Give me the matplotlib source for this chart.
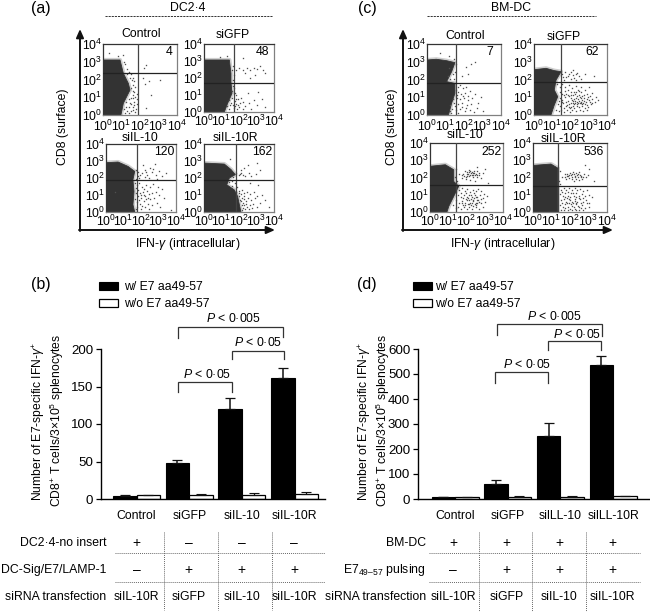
import matplotlib
matplotlib.use("Agg")
import matplotlib.pyplot as plt
from matplotlib.patches import Polygon

plt.rcParams['font.family'] = ['Liberation Sans', 'DejaVu Sans']
plt.rcParams['mathtext.fontset'] = 'custom'
plt.rcParams['mathtext.rm'] = 'Liberation Sans'
plt.rcParams['mathtext.it'] = 'Liberation Sans:italic'
plt.rcParams['mathtext.default'] = 'regular'

W, H = 650, 612
TXT = '#000000'

# ---- bar chart data ----
cats_b = ['Control', 'siGFP', 'siIL-10', 'siIL-10R']
with_b = [4, 48, 120, 162]
with_b_err = [2, 4, 15, 13]
wo_b = [5, 5, 6, 7]
wo_b_err = [0.7, 1.5, 1.5, 2]

cats_d = ['Control', 'siGFP', 'silLL-10', 'silLL-10R']
with_d = [7, 62, 252, 536]
with_d_err = [3, 14, 54, 35]
wo_d = [8, 8, 10, 11]
wo_d_err = [2, 3, 2, 3]

legend_labels = ['w/ E7 aa49-57', 'w/o E7 aa49-57']
ylabel_bars = 'Number of E7-specific IFN-$\\mathit{\\gamma}^{+}$\nCD8$^{+}$ T cells/3$\\times$10$^{5}$ splenocytes'

# ---- table text ----
rows_b = ['DC2·4-no insert', 'DC-Sig/E7/LAMP-1', 'siRNA transfection']
rows_d = ['BM-DC', 'E7$_{49–57}$ pulsing', 'siRNA transfection']
row1_b = ['+', '–', '–', '–']
row2_b = ['–', '+', '+', '+']
row1_d = ['+', '+', '+', '+']
row2_d = ['–', '+', '+', '+']
row3 = ['siIL-10R', 'siGFP', 'siIL-10', 'siIL-10R']

# ---- flow panels: outline of dense population, quadrant gates, sparse events (log10 units) ----
blob_a1 = [(0, 0), (0, 3.1), (0.92, 3.1), (1.1, 2.35), (1.37, 1.78), (1.46, 1.41), (1.1, 0.66), (0.97, 0)]
gate_a1 = (1.9, 2.35)
dots_a1 = [(1.3,2.6),(1.5,2.3),(1.6,2.1),(1.7,1.9),(1.6,1.7),(1.75,1.55),(1.7,1.3),(1.6,1.15),(1.5,0.95),(1.75,1.0),
 (1.45,0.7),(1.65,0.75),(1.85,0.6),(1.4,0.45),(1.6,0.45),(1.8,0.35),(1.3,0.25),(1.5,0.2),(1.75,0.15),(1.2,0.1),
 (2.2,2.65),(2.35,2.8),(2.15,2.1),(2.25,1.75),(2.5,1.9),(2.6,1.1),(3.1,1.95),(2.3,0.4),(0.3,3.5),(0.8,3.35),(1.1,3.4),(1.15,3.0),
 (1.2,2.85),(1.4,2.45),(1.55,1.95),(1.85,1.2),(1.85,0.9),(1.25,0.45),(1.6,0.95),(1.7,0.55),
 (1.28,2.33),(1.47,2.07),(1.52,1.52),(1.63,1.38),(1.38,0.91),(1.27,0.72),(1.54,0.62),(1.12,0.33),(1.42,0.11),(1.62,0.28)]

blob_a2 = [(0, 0), (0, 3.06), (1.45, 3.06), (1.54, 2.27), (1.54, 1.78), (1.6, 1.1), (1.35, 0.51), (1.16, 0)]
gate_a2 = (1.73, 1.69)
dots_a2 = [(1.65,2.7),(1.7,2.2),(1.65,1.9),(1.7,1.4),(1.75,1.1),(1.6,0.8),(1.75,0.65),(1.5,0.4),(1.85,0.5),(1.95,0.75),
 (2.0,0.3),(1.4,0.2),(1.7,0.25),(2.2,0.6),(2.35,0.35),(2.1,0.85),(2.55,0.55),(2.7,0.2),(2.85,0.7),(3.0,0.4),(3.3,0.75),(3.5,0.3),
 (1.85,2.45),(2.0,2.6),(2.2,2.5),(2.35,2.3),(2.45,2.6),(2.65,2.45),(2.85,2.6),(3.0,2.55),(3.2,2.7),(3.35,2.5),(2.6,2.0),(2.9,2.15),(3.5,2.3),
 (0.9,3.25),(1.3,3.3),(2.2,3.2),(3.1,1.2),(2.5,1.1),(1.9,0.15),(2.25,0.2),(1.8,1.0),(2.05,0.55),
 (1.62,2.48),(1.66,1.55),(1.58,1.22),(1.45,0.68),(1.55,0.55),(1.82,0.78),(1.67,0.43),(1.93,0.42),(1.78,0.37),(1.33,0.35)]

blob_a3 = [(0, 0), (0, 2.9), (0.69, 2.94), (1.26, 2.68), (1.64, 2.39), (1.54, 1.9), (1.6, 1.2), (1.54, 0.43), (1.64, 0)]
gate_a3 = (1.79, 1.86)
dots_a3 = [(1.7,2.5),(1.85,2.35),(1.8,2.1),(1.7,1.95),(1.9,2.0),(2.05,2.3),(2.2,2.5),(2.35,2.2),(2.45,2.0),(2.6,2.35),(2.7,2.55),(2.85,2.2),
 (3.0,2.4),(2.2,2.05),(2.5,2.6),(2.9,1.95),(3.2,2.1),(3.4,2.3),(2.1,2.75),(2.8,2.8),
 (1.9,1.7),(2.05,1.5),(2.3,1.6),(2.5,1.45),(2.7,1.65),(2.95,1.5),(3.2,1.35),(1.85,1.3),(2.1,1.2),(2.35,1.25),(2.6,1.1),(2.85,1.2),(3.05,1.0),
 (1.8,0.95),(2.0,0.85),(2.25,0.95),(2.5,0.75),(2.75,0.85),(3.3,0.8),(1.75,0.6),(1.95,0.5),(2.15,0.65),(2.4,0.5),(2.65,0.4),(2.9,0.55),
 (1.75,0.3),(2.0,0.2),(2.2,0.3),(2.45,0.15),(3.1,0.3),(3.7,0.1),(0.5,1.2),(1.75,1.6),(2.15,1.0),(2.0,1.0),(2.4,0.85),
 (1.67,1.73),(1.72,1.42),(1.69,1.09),(1.63,0.77),(1.71,0.18),(1.93,1.13),(2.17,1.37),(2.43,1.03),(1.88,0.72),(2.08,0.38),(2.31,0.78),(1.97,2.17),(2.28,2.38)]

blob_a4 = [(0, 0), (0, 2.88), (1.16, 2.82), (1.54, 2.5), (1.79, 2.2), (1.45, 2.0), (1.3, 1.6), (1.73, 1.3), (1.92, 0.92), (2.11, 0)]
gate_a4 = (1.83, 1.86)
dots_a4 = [(1.85,2.3),(2.05,2.25),(2.2,2.15),(2.35,2.1),(2.1,2.45),(2.3,2.6),(2.55,2.3),(2.7,2.1),(2.95,2.25),(3.2,2.45),(2.5,2.75),(3.0,2.9),
 (1.6,1.85),(1.75,1.7),(1.9,1.45),(1.85,1.2),(2.0,1.25),(2.15,1.3),(2.3,1.1),(2.45,1.2),(2.65,1.05),(2.85,1.15),(3.05,0.95),(3.3,1.0),
 (2.0,0.95),(2.15,0.85),(2.3,0.75),(2.5,0.8),(2.7,0.7),(2.9,0.8),(3.2,0.55),(2.2,0.55),(2.4,0.5),(2.6,0.4),(2.8,0.45),(3.05,0.3),
 (2.2,0.25),(2.35,0.2),(2.55,0.15),(2.15,0.4),(2.3,0.95),(2.0,1.1),(2.75,0.25),(3.5,0.7),(3.7,0.3),(1.5,3.1),(2.6,1.7),(3.1,1.6),(2.05,0.7),
 (1.42,1.78),(1.58,1.53),(1.67,2.03),(1.38,1.87),(2.12,0.63),(2.18,0.12),(2.27,0.43),(2.47,0.32),(2.13,1.05),(2.38,0.67),(1.98,2.18),(2.12,2.28)]

blob_c1 = [(0, 0), (0, 3.1), (0.5, 3.14), (1.06, 3.06), (1.51, 2.95), (1.33, 2.44), (1.06, 1.88), (1.51, 1.78), (1.51, 1.22), (1.33, 0.66), (1.16, 0)]
gate_c1 = (1.57, 1.82)
dots_c1 = [(0.7,3.5),(1.2,3.35),(1.45,3.15),(1.55,2.9),(1.4,2.3),(1.25,2.05),(1.45,2.05),(2.1,2.7),(2.4,2.85),(2.6,3.0),(2.2,2.3),(1.9,2.2),
 (1.65,1.6),(1.8,1.7),(1.95,1.5),(2.1,1.6),(1.7,1.3),(1.85,1.2),(2.05,1.25),(2.3,1.35),(2.6,1.2),(1.6,0.95),(1.8,0.9),(2.0,0.95),(2.2,0.85),
 (2.45,0.95),(2.75,0.7),(1.45,0.7),(1.65,0.6),(1.9,0.65),(2.15,0.55),(2.4,0.6),(2.7,0.4),(1.35,0.35),(1.55,0.3),(1.8,0.35),(2.05,0.25),(2.3,0.3),
 (2.55,0.15),(3.0,0.25),(1.3,0.1),(1.7,0.1),(1.95,1.05),(2.1,0.4),(2.9,1.0),
 (1.58,1.42),(1.62,1.13),(1.43,0.92),(1.52,0.48),(1.27,0.58),(1.22,0.22),(1.88,0.47),(2.23,1.08),(1.12,2.2),(1.18,2.62),(1.53,2.42)]

blob_c2 = [(0, 0), (0, 2.55), (0.66, 2.63), (1.11, 2.5), (1.48, 2.44), (1.21, 1.97), (1.11, 1.41), (1.3, 1.03), (1.11, 0.56), (0.93, 0)]
gate_c2 = (1.5, 1.84)
dots_c2 = [(1.55,2.3),(1.7,2.45),(1.85,2.2),(2.0,2.4),(2.15,2.55),(2.3,2.3),(2.45,2.2),(2.6,2.05),(2.0,2.05),(1.65,2.0),(2.2,2.1),(2.8,2.3),(3.3,2.2),
 (1.25,1.75),(1.4,1.6),(1.55,1.75),(1.7,1.55),(1.9,1.7),(2.1,1.5),(2.3,1.65),(2.55,1.55),(2.8,1.4),(3.0,1.6),
 (1.4,1.3),(1.55,1.2),(1.7,1.35),(1.85,1.15),(2.0,1.3),(2.15,1.1),(2.3,1.3),(2.45,1.15),(2.6,1.3),(2.75,1.1),(2.9,1.2),(3.05,1.05),(3.2,1.25),(3.4,1.0),
 (1.4,0.95),(1.55,0.85),(1.7,1.0),(1.85,0.8),(2.0,0.95),(2.15,0.8),(2.3,0.95),(2.45,0.8),(2.6,0.95),(2.75,0.8),(2.9,0.9),(3.05,0.75),(3.2,0.9),(3.35,0.75),(3.5,0.85),
 (1.3,0.6),(1.45,0.5),(1.6,0.65),(1.75,0.5),(1.9,0.6),(2.05,0.45),(2.2,0.6),(2.35,0.5),(2.5,0.65),(2.65,0.5),(2.8,0.6),(2.95,0.45),(3.1,0.6),
 (1.2,0.3),(1.35,0.2),(1.5,0.3),(1.65,0.15),(1.8,0.3),(1.95,0.15),(2.1,0.3),(2.3,0.2),(2.5,0.3),(2.7,0.2),(2.9,0.3),
 (2.05,0.7),(2.25,0.7),(2.4,0.65),(2.55,0.75),(2.7,0.7),(2.85,0.75),(2.2,0.9),(2.35,1.05),(2.5,1.0),(2.65,1.05),(1.9,0.45),(2.15,0.5),
 (1.62,1.12),(1.78,0.73),(1.93,1.07),(2.08,0.83),(2.27,1.17),(2.42,0.92),(2.58,0.68),(2.73,0.93),(2.88,0.57),(3.02,0.87),(3.17,0.68),(2.38,0.73),(2.13,0.67),
 (1.67,0.42),(1.83,0.57),(1.98,0.38),(2.18,0.42),(2.33,0.62),(2.48,0.47),(2.62,0.62),(2.77,0.42),(1.53,0.72),(1.38,0.77),(1.73,1.18),(2.03,1.13),(2.47,1.33),
 (2.17,1.28),(1.88,1.42),(2.42,1.42),(1.78,2.12),(1.92,2.32),(2.12,2.27),(2.38,2.38),(1.58,2.13),(2.28,1.97),(2.63,0.83),(2.22,0.78),(2.97,1.02)]

blob_c3 = [(0, 0), (0, 2.65), (0.84, 2.74), (1.3, 2.45), (1.3, 1.77), (1.57, 1.49), (1.3, 0.91), (1.03, 0.33), (0.93, 0)]
gate_c3 = (1.41, 1.55)
dots_c3 = [(1.45,2.5),(1.6,2.2),(1.75,1.95),(1.5,1.8),(1.35,2.05),(3.2,1.7),(3.0,2.5),(2.6,2.6),
 (1.8,2.2),(1.9,2.35),(2.0,2.1),(2.05,2.3),(2.15,2.45),(2.2,2.15),(2.3,2.3),(2.35,2.05),(2.4,2.4),(2.5,2.2),(2.55,2.0),(2.6,2.35),(2.7,2.15),(2.8,1.95),(2.9,2.25),(1.95,1.9),(2.2,1.85),(2.45,1.8),(2.1,2.2),(2.25,2.25),
 (1.75,2.15),(2.15,2.3),(2.45,2.15),(2.35,2.25),
 (1.6,1.25),(1.75,1.4),(1.9,1.2),(2.05,1.35),(2.2,1.15),(2.35,1.3),(2.5,1.2),(2.65,1.35),(2.8,1.2),(2.95,1.05),
 (1.55,1.0),(1.7,0.85),(1.85,1.0),(2.0,0.85),(2.15,1.0),(2.3,0.85),(2.45,1.0),(2.6,0.85),(2.75,1.0),(2.9,0.8),(3.1,0.9),
 (1.45,0.7),(1.6,0.55),(1.75,0.65),(1.9,0.5),(2.05,0.7),(2.2,0.55),(2.35,0.7),(2.5,0.55),(2.65,0.7),(2.8,0.5),(3.0,0.6),
 (1.25,0.4),(1.4,0.25),(1.55,0.3),(1.7,0.2),(1.85,0.3),(2.0,0.2),(2.15,0.3),(2.3,0.2),(2.5,0.3),(2.7,0.2),(2.9,0.3),
 (2.1,0.8),(2.25,0.75),(2.4,0.8),(2.55,0.7),(2.45,0.45),(2.3,0.5),(2.6,0.5),(2.15,0.45),(1.95,0.75),(1.8,0.4),
 (1.87,2.08),(2.02,2.22),(2.18,2.38),(2.28,2.12),(2.42,2.28),(2.57,2.13),(2.13,2.08),(1.97,2.03),(2.33,2.17),(2.67,2.28),
 (1.83,0.82),(1.97,1.08),(2.12,0.72),(2.27,0.98),(2.38,0.62),(2.53,0.88),(2.68,0.58),(1.68,1.08),(1.78,0.52),(1.93,0.38),(2.08,0.47),(2.22,0.42),(2.37,0.33),(2.52,0.42),(2.82,0.77),(2.43,1.13)]

blob_c4 = [(0, 0), (0, 2.7), (0.97, 2.78), (1.33, 2.55), (1.33, 0)]
gate_c4 = (1.37, 1.53)
dots_c4 = [(1.45,2.4),(1.55,2.0),(1.4,1.8),(1.45,1.65),(3.3,1.8),(2.8,2.7),(3.0,2.5),
 (1.75,2.05),(1.85,2.2),(1.95,1.95),(2.0,2.25),(2.1,2.05),(2.15,2.3),(2.25,2.1),(2.3,1.9),(2.35,2.25),(2.45,2.05),(2.5,2.3),(2.6,2.1),(2.65,1.9),(2.75,2.2),(2.85,2.0),(2.95,2.15),
 (1.9,2.1),(2.05,2.15),(2.2,2.2),(2.4,2.15),(2.55,2.15),(1.8,1.9),(2.2,1.8),(2.7,2.05),
 (1.5,1.3),(1.65,1.4),(1.8,1.25),(1.95,1.4),(2.1,1.25),(2.25,1.4),(2.4,1.25),(2.55,1.35),(2.7,1.2),(2.9,1.3),
 (1.45,1.05),(1.6,0.95),(1.75,1.1),(1.9,0.95),(2.05,1.1),(2.2,0.95),(2.35,1.1),(2.5,0.95),(2.65,1.05),(2.8,0.9),(3.0,1.0),(3.2,0.85),
 (1.5,0.7),(1.65,0.75),(1.8,0.6),(1.95,0.75),(2.1,0.6),(2.25,0.75),(2.4,0.6),(2.55,0.75),(2.7,0.6),(2.85,0.7),(3.05,0.55),
 (1.45,0.4),(1.6,0.3),(1.75,0.45),(1.9,0.3),(2.05,0.45),(2.2,0.3),(2.35,0.45),(2.5,0.3),(2.65,0.4),(2.8,0.25),(3.0,0.3),
 (1.5,0.12),(1.7,0.1),(1.9,0.12),(2.1,0.1),(2.3,0.12),(2.5,0.1),(2.7,0.1),(1.85,0.5),(2.0,0.85),(2.15,0.5),(2.3,0.85),(2.0,0.2),(2.25,0.2),
 (1.83,2.08),(1.97,2.12),(2.13,2.18),(2.28,2.03),(2.43,2.22),(2.58,2.02),(2.12,1.93),(2.48,1.88),(1.73,2.22),
 (1.57,1.17),(1.72,0.88),(1.87,1.17),(2.02,0.68),(2.17,1.13),(2.32,0.53),(2.47,0.83),(2.62,0.53),(1.58,0.53),(1.72,0.22),(1.83,0.82),(1.97,0.53),(2.12,0.37),(2.27,0.62),(2.42,0.37),(2.57,0.22),(2.72,0.83),(2.93,0.52)]

decades = [0, 1, 2, 3, 4]
decade_labels = ['10$^{0}$', '10$^{1}$', '10$^{2}$', '10$^{3}$', '10$^{4}$']

flow_panels = [
    ('Control', (103, 177, 44, 115), (141, 34), '4', (169, 52), blob_a1, gate_a1, dots_a1, 3.0),
    ('siGFP', (204, 274, 44, 112), (233, 35), '48', (262, 52), blob_a2, gate_a2, dots_a2, 1.5),
    ('siIL-10', (106, 176, 144, 212), (140, 138), '120', (164, 152), blob_a3, gate_a3, dots_a3, 1.0),
    ('siIL-10R', (204, 274, 144, 212), (235, 138), '162', (262, 152), blob_a4, gate_a4, dots_a4, 1.0),
    ('Control', (427, 501, 44, 115), (465, 36), '7', (490, 52), blob_c1, gate_c1, dots_c1, 3.0),
    ('siGFP', (534, 607, 44, 115), (564, 37), '62', (592, 52), blob_c2, gate_c2, dots_c2, 3.0),
    ('siIL-10', (430, 503, 143, 212), (465, 135), '252', (492, 152), blob_c3, gate_c3, dots_c3, 1.0),
    ('siIL-10R', (533, 607, 143, 212), (563, 139), '536', (594, 152), blob_c4, gate_c4, dots_c4, 1.0),
]

fig = plt.figure(figsize=(W / 100, H / 100), dpi=100, facecolor='white')


def px_axes(x0, x1, y0, y1, **kw):
    return fig.add_axes([x0 / W, 1 - y1 / H, (x1 - x0) / W, (y1 - y0) / H], **kw)


ov = fig.add_axes([0, 0, 1, 1], zorder=5)
ov.set_xlim(0, W)
ov.set_ylim(H, 0)
ov.axis('off')
ov.patch.set_alpha(0)


def t(x, y, s, size=8.8, ha='center', va='center', **kw):
    ov.text(x, y, s, fontsize=size, ha=ha, va=va, color=TXT, **kw)


for title, (x0, x1, y0, y1), tpos, count, cpos, blob, gate, dots, pad in flow_panels:
    ax = px_axes(x0, x1, y0, y1)
    ax.set_xlim(0, 4)
    ax.set_ylim(0, 4)
    ax.add_patch(Polygon(blob, closed=True, fc='#cfcfcf', ec='#cfcfcf', lw=3.0, joinstyle='round', zorder=1.5))
    ax.add_patch(Polygon(blob, closed=True, fc='#333333', ec='#333333', lw=0.6, joinstyle='round', zorder=2))
    ax.plot([p[0] for p in dots], [p[1] for p in dots], ls='', marker='s', ms=0.95, mew=0,
            color='#505050', zorder=3)
    ax.axvline(gate[0], color='#444444', lw=0.9, zorder=4)
    ax.axhline(gate[1], color='#222222', lw=0.9, zorder=4)
    ax.set_xticks(decades)
    ax.set_xticklabels(decade_labels, fontsize=8.8, color=TXT)
    ax.set_yticks(decades)
    ax.set_yticklabels(decade_labels, fontsize=8.8, color=TXT)
    ax.tick_params(axis='x', length=0, pad=pad)
    ax.tick_params(axis='y', length=0, pad=0.5)
    for name, sp in ax.spines.items():
        sp.set_linewidth(0.9)
        sp.set_color('#333333' if name in ('left', 'top') else '#808080')
    t(tpos[0], tpos[1], title)
    t(cpos[0], cpos[1], count)

for letter, lx, head, hx, dash, ax_x, ax_end, ylab_x, xlab_x in [
        ('(a)', 41, 'DC2·4', 188, (105, 273), 80, 275, 63, 188),
        ('(c)', 367, 'BM-DC', 511, (427, 596), 403, 613, 392, 503)]:
    t(lx, 9, letter, size=11.5)
    t(hx, 8, head)
    ov.plot(dash, [16, 16], color='#333333', lw=0.7, ls=(0, (2.2, 1.0)))
    ov.annotate('', xy=(ax_x, 29), xytext=(ax_x, 231),
                arrowprops=dict(arrowstyle='-|>,head_width=0.22,head_length=0.5', color='#111111', lw=1.4,
                                shrinkA=0, shrinkB=0))
    ov.annotate('', xy=(ax_end, 230), xytext=(ax_x - 1, 230),
                arrowprops=dict(arrowstyle='-|>,head_width=0.22,head_length=0.5', color='#111111', lw=1.4,
                                shrinkA=0, shrinkB=0))
    t(ylab_x, 127, 'CD8 (surface)', rotation=90)
    t(xlab_x, 244, 'IFN-$\\mathit{\\gamma}$ (intracellular)')


def bar_panel(x0, x1, c0, step, ymax, yticks, cats, w, werr, wo, woerr, ylab_x, leg_x, txtpad):
    ax = px_axes(x0, x1, 349, 499)
    ax.set_xlim((x0 - c0) / step, (x1 - c0) / step)
    ax.set_ylim(0, ymax)
    bw = 23.5 / step
    idx = list(range(len(cats)))
    b1 = ax.bar([i - bw / 2 for i in idx], w, bw, color='black', edgecolor='black', lw=0.8,
                yerr=[[0] * 4, werr], error_kw=dict(ecolor='#111111', elinewidth=1.1, capsize=3.6, capthick=0.9),
                label=legend_labels[0])
    b2 = ax.bar([i + bw / 2 for i in idx], wo, bw, color='white', edgecolor='black', lw=0.9,
                yerr=[[0] * 4, woerr], error_kw=dict(ecolor='#111111', elinewidth=0.9, capsize=3.6, capthick=0.8),
                label=legend_labels[1])
    ax.set_xticks(idx)
    ax.set_xticklabels(cats, fontsize=8.8, color=TXT)
    ax.tick_params(axis='x', length=0, pad=8)
    ax.set_yticks(yticks)
    ax.tick_params(axis='y', length=3.6, width=0.9, pad=2, labelsize=9.6, labelcolor=TXT)
    ax.spines[['top', 'right']].set_visible(False)
    ax.spines[['left', 'bottom']].set_linewidth(1.0)
    ax.patch.set_alpha(0)
    t(ylab_x, 421, ylabel_bars, size=8.7, rotation=90, linespacing=1.05, multialignment='center')
    leg = ax.legend(handles=[b1, b2], loc='upper left', bbox_to_anchor=(leg_x / W, 1 - 281 / H),
                    bbox_transform=fig.transFigure, frameon=False, fontsize=8.8, handlelength=1.55,
                    handleheight=0.6, handletextpad=txtpad, labelspacing=0.45, borderpad=0, borderaxespad=0)
    for txt in leg.get_texts():
        txt.set_color(TXT)
    return ax


bar_panel(101, 325, 136.5, 52.7, 200, [0, 50, 100, 150, 200], cats_b, with_b, with_b_err, wo_b, wo_b_err, 48, 99, 0.5)
bar_panel(418, 650, 455, 52.7, 600, [0, 100, 200, 300, 400, 500, 600], cats_d, with_d, with_d_err, wo_d, wo_d_err, 374, 413, 0.25)
t(41, 285, '(b)', size=11.5)
t(367, 285, '(d)', size=11.5)


def bracket(xl, xr, y, yl, yr, label, lx, ly):
    ov.plot([xl, xl, xr, xr], [yl, y, y, yr], color='#333333', lw=0.9, solid_joinstyle='miter')
    t(lx, ly, '$\\mathit{P}$ < ' + label)


bracket(178, 283, 327, 338, 337, '0·005', 233, 318)
bracket(232, 284, 351, 359, 359, '0·05', 258, 343)
bracket(178, 232, 382, 392, 392, '0·05', 207, 374)
bracket(497, 602, 324, 335, 336, '0·005', 554, 317)
bracket(548, 601, 341, 350, 350, '0·05', 577, 334)
bracket(495, 548, 372, 383, 383, '0·05', 527, 364)


def table(rows, right, cols, r1, r2, hx, vx, vbot):
    for y, s in zip([543, 570, 597], rows):
        t(right, y, s, ha='right')
    for cx, a, b, c in zip(cols, r1, r2, row3):
        t(cx, 543, a, size=10)
        t(cx, 570, b, size=10)
        t(cx, 597, c)
    for y in (553, 581.5):
        ov.plot(hx, [y, y], color='#666666', lw=0.7, ls=(0, (1, 1.1)))
    for x in vx:
        ov.plot([x, x], [532, vbot], color='#666666', lw=0.7, ls=(0, (1, 1.1)))


table(rows_b, 106, [136.5, 188.5, 241.5, 294], row1_b, row2_b, (115, 325), (164, 218, 272), 610)
table(rows_d, 426, [453, 506.5, 559, 612], row1_d, row2_d, (429, 640), (479, 532, 586), 612)

fig.savefig('out.png', dpi=100, facecolor='white')
